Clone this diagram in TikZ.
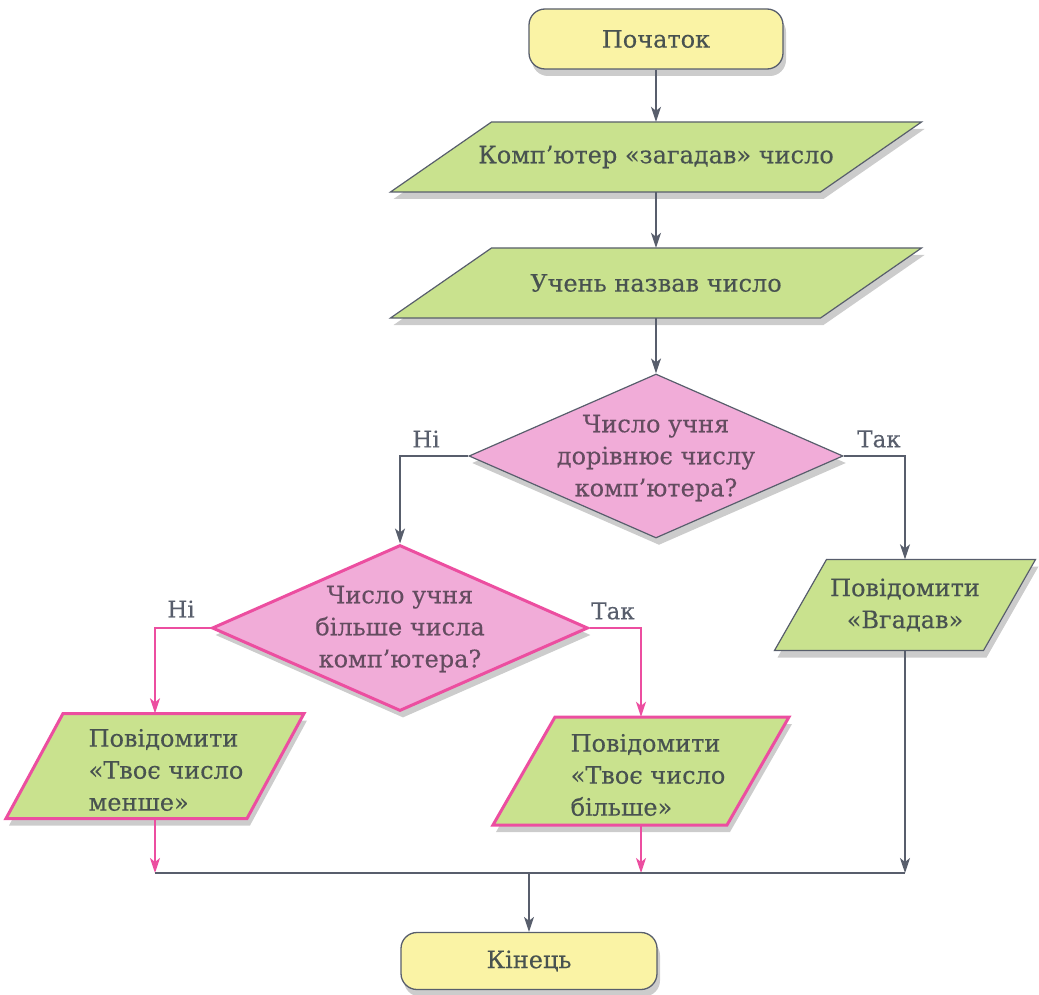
\documentclass[tikz,border=0pt]{standalone}
\usepackage{fontspec}
\setmainfont{DejaVu Serif}[FakeBold=0.3]
\usetikzlibrary{shapes.geometric,shadows,arrows.meta}
\definecolor{termfill}{RGB}{250,243,165}
\definecolor{parafill}{RGB}{201,226,142}
\definecolor{diafill}{RGB}{241,172,216}
\definecolor{pinkc}{RGB}{236,78,160}
\definecolor{grayc}{RGB}{88,94,108}
\definecolor{txtc}{RGB}{72,82,80}
\definecolor{diatxt}{RGB}{100,76,96}
\tikzset{
  shd/.style={drop shadow={shadow xshift=3pt,shadow yshift=-7pt,opacity=0.2,fill=black}},
  term/.style={draw=grayc,line width=1.3pt,fill=termfill,rounded corners=16pt,minimum width=254pt,minimum height=60pt,inner sep=0pt,shd},
  para/.style={draw=grayc,line width=1.2pt,fill=parafill,line join=miter,shd},
  ppara/.style={para,draw=pinkc,line width=3pt},
  anch/.style={inner sep=0pt,minimum width=10pt},
  dia/.style={diamond,draw=grayc,line width=1.2pt,fill=diafill,inner sep=0pt,shd},
  pdia/.style={dia,draw=pinkc,line width=3pt},
  txt/.style={font=\fontsize{24pt}{32pt}\selectfont,text=txtc,align=center,inner sep=0pt},
  ltxt/.style={txt,align=left},
  dtxt/.style={txt,text=diatxt},
  lbl/.style={font=\fontsize{23pt}{26pt}\selectfont,text=grayc,inner sep=0pt},
  garrow/.style={draw=grayc,line width=1.3pt,-{Stealth[length=15pt,width=10pt,inset=4pt]}},
  gline/.style={draw=grayc,line width=1.3pt},
  parrow/.style={draw=pinkc,line width=2pt,-{Stealth[length=15pt,width=10pt,inset=4pt]}},
}
% name, cx, cy, total width, height, slant, style
\newcommand\parabox[7]{%
  \path[#7] ({#2-#4/2},{#3+#5/2}) -- ({#2+#4/2-#6},{#3+#5/2}) -- ({#2+#4/2},{#3-#5/2}) -- ({#2-#4/2+#6},{#3-#5/2}) -- cycle;
  \node[anch,minimum height=#5pt] (#1) at (#2,#3) {};
}
\begin{document}
\begin{tikzpicture}[x=1pt,y=-1pt]
\useasboundingbox (0,0) rectangle (1039,995);
% shapes
\node[term] (start) at (656,39) {};
\node[txt] (startt) at (start) {Початок};
\parabox{p1}{656}{157}{531}{70}{101}{para}
\node[txt] (p1t) at (p1) {Комп’ютер «загадав» число};
\parabox{p2}{656}{283}{531}{70}{101}{para}
\node[txt] (p2t) at (p2) {Учень назвав число};
\node[dia,minimum width=374pt,minimum height=164pt] (d1) at (656,456) {};
\node[dtxt] (d1t) at ([yshift=-2pt]d1) {Число учня\\дорівнює числу\\комп’ютера?};
\node[pdia,minimum width=376pt,minimum height=166pt] (d2) at (400,628) {};
\node[dtxt] (d2t) at ([yshift=-1pt]d2) {Число учня\\більше числа\\комп’ютера?};
\parabox{pl}{155}{766}{298}{105}{57}{ppara}
\node[ltxt] (plt) at (166,770) {Повідомити\\«Твоє число\\менше»};
\parabox{pr}{641}{771}{296}{108}{62}{ppara}
\node[ltxt] (prt) at (648,775) {Повідомити\\«Твоє число\\більше»};
\parabox{pv}{905}{605}{261}{91}{52}{para}
\node[txt] (pvt) at (pv) {Повідомити\\«Вгадав»};
\node[term,minimum width=256pt,minimum height=57pt] (end) at (529,961) {};
\node[txt] (endt) at (end) {Кінець};
% labels
\node[lbl] (l1) at (426,439) {Ні};
\node[lbl] (l2) at (879,439) {Так};
\node[lbl] (l3) at (181,609) {Ні};
\node[lbl] (l4) at (613,611) {Так};
% merge points
\coordinate (mL) at (pl.south |- 0,873);
\coordinate (mR) at (pr.south |- 0,873);
\coordinate (mV) at (pv.south |- 0,873);
\coordinate (mE) at (end.north |- 0,873);
% connectors
\draw[garrow] (start.south) -- (p1.north);
\draw[garrow] (p1.south) -- (p2.north);
\draw[garrow] (p2.south) -- (d1.north);
\draw[garrow] (d1.west) -| (d2.north);
\draw[garrow] (d1.east) -| (pv.north);
\draw[parrow] (d2.west) -| (pl.north);
\draw[parrow] (d2.east) -| (pr.north);
\draw[parrow] (pl.south) -- (mL);
\draw[parrow] (pr.south) -- (mR);
\draw[garrow] (pv.south) -- (mV);
\draw[gline] (mL) -- (mV);
\draw[garrow] (mE) -- (end.north);
\end{tikzpicture}
\end{document}
